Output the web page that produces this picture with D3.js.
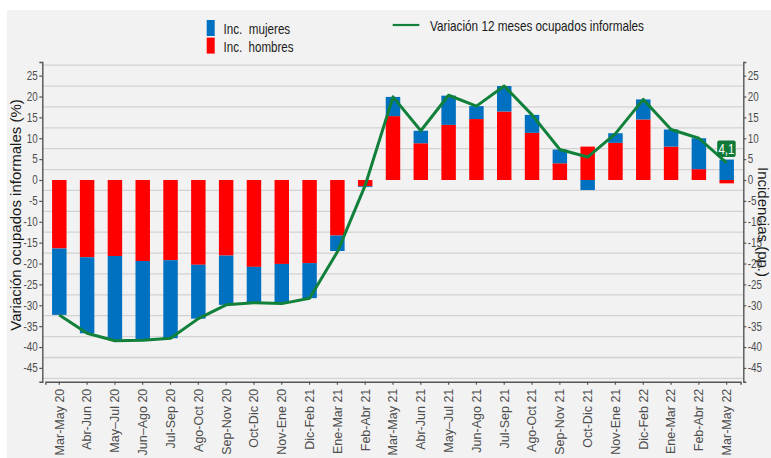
<!DOCTYPE html>
<html>
<head>
<meta charset="utf-8">
<script src="https://cdn.jsdelivr.net/npm/d3@7"></script>
<style>
  body { margin: 0; background: #fff; }
  svg { display: block; }
  text { font-family: "Liberation Sans", Arial, sans-serif; }
</style>
</head>
<body>
<div id="chart"></div>
<script>
// data
var categories = ["Mar-May 20","Abr-Jun 20","May\u2013Jul 20","Jun\u2013Ago 20","Jul-Sep 20","Ago-Oct 20","Sep-Nov 20","Oct-Dic 20","Nov-Ene 20","Dic-Feb 21","Ene-Mar 21","Feb-Abr 21","Mar-May 21","Abr-Jun 21","May\u2013Jul 21","Jun-Ago 21","Jul-Sep 21","Ago-Oct 21","Sep-Nov 21","Oct-Dic 21","Nov-Ene 21","Dic-Feb 22","Ene-Mar 22","Feb-Abr 22","Mar-May 22"];
var incHombres = [-16.4,-18.5,-18.2,-19.4,-19.2,-20.3,-18.1,-20.8,-20.1,-19.9,-13.3,-1.5,15.3,8.8,13.2,14.6,16.4,11.3,4.0,8.0,8.9,14.5,8.0,2.6,-0.8];
var incMujeres = [-15.9,-18.2,-20.1,-18.9,-18.7,-12.9,-11.8,-8.6,-9.4,-8.4,-3.7,-0.2,4.6,3.0,7.0,3.1,6.1,4.3,3.3,-2.4,2.3,4.8,4.1,7.4,4.9];
var variacion = [-32.3,-36.7,-38.5,-38.4,-37.9,-33.2,-29.9,-29.4,-29.6,-28.3,-17.2,-1.3,19.9,11.8,20.3,17.7,22.5,15.6,7.3,5.5,11.1,19.3,12.1,10.0,4.1];
var yTicks = [25,20,15,10,5,0,-5,-10,-15,-20,-25,-30,-35,-40,-45];
var gridValues = [27.5,22.5,17.5,12.5,7.5,2.5,-2.5,-7.5,-12.5,-17.5,-22.5,-27.5,-32.5,-37.5,-42.5,-47.5];
var lastLabel = "4,1";

var W = 771, H = 458;
var plot = {left: 42.3, right: 743.3, top: 62, bottom: 381.7};

// squeeze text horizontally to mimic a narrow face
function narrow(sel, ratio) {
  sel.each(function() {
    var L = this.getComputedTextLength();
    d3.select(this).attr("textLength", L * ratio).attr("lengthAdjust", "spacingAndGlyphs");
  });
}

var svg = d3.select("#chart").append("svg")
  .attr("width", W).attr("height", H);

// panel background
svg.append("rect")
  .attr("x", 7).attr("y", 10)
  .attr("width", W - 7).attr("height", H - 10)
  .attr("fill", "#f2f2f2");

var x = d3.scaleBand()
  .domain(categories)
  .range([45.4, 740.6])
  .paddingInner(0.48)
  .paddingOuter(0.24);

var y = d3.scaleLinear()
  .domain([-48.3, 28.26])
  .range([plot.bottom, plot.top]);

// gridlines
svg.append("g")
  .selectAll("line")
  .data(gridValues)
  .enter()
  .append("line")
  .attr("x1", plot.left).attr("x2", plot.right)
  .attr("y1", function(d) { return y(d); })
  .attr("y2", function(d) { return y(d); })
  .attr("stroke", "#d2d2d2")
  .attr("stroke-width", 1.3);

// stacked bars (diverging)
var table = categories.map(function(c, i) {
  return {cat: c, hombres: incHombres[i], mujeres: incMujeres[i]};
});
var stack = d3.stack().keys(["hombres", "mujeres"]).offset(d3.stackOffsetDiverging);
var series = stack(table);
var color = {hombres: "#ff0000", mujeres: "#0070c0"};

svg.append("g")
  .selectAll("g")
  .data(series)
  .enter()
  .append("g")
  .attr("fill", function(s) { return color[s.key]; })
  .selectAll("rect")
  .data(function(s) { return s; })
  .enter()
  .append("rect")
  .attr("x", function(d) { return x(d.data.cat); })
  .attr("width", x.bandwidth())
  .attr("y", function(d) { return y(Math.max(d[0], d[1])); })
  .attr("height", function(d) { return Math.abs(y(d[0]) - y(d[1])); });

// line
var line = d3.line()
  .x(function(d, i) { return x(categories[i]) + x.bandwidth() / 2; })
  .y(function(d) { return y(d); });

svg.append("path")
  .datum(variacion)
  .attr("d", line)
  .attr("fill", "none")
  .attr("stroke", "#11803a")
  .attr("stroke-width", 3)
  .attr("stroke-linejoin", "round");

// label on last point
var lx = x(categories[categories.length - 1]) + x.bandwidth() / 2;
var ly = y(variacion[variacion.length - 1]) - 14;
svg.append("rect")
  .attr("x", lx - 9.5).attr("y", ly - 8.5)
  .attr("width", 18.5).attr("height", 16.5)
  .attr("rx", 2)
  .attr("fill", "#0f7a38");
svg.append("text")
  .attr("x", lx - 0.3).attr("y", ly + 5)
  .attr("text-anchor", "middle")
  .attr("fill", "#fff")
  .style("font-size", "14px")
  .text(lastLabel)
  .call(narrow, 0.82);

// axes
var axisColor = "#555";
var fmt = function(d) { return String(d); };

var gL = svg.append("g")
  .attr("transform", "translate(" + plot.left + ",0)")
  .call(d3.axisLeft(y).tickValues(yTicks).tickFormat(fmt).tickSize(3).tickPadding(1.5));
var gR = svg.append("g")
  .attr("transform", "translate(" + plot.right + ",0)")
  .call(d3.axisRight(y).tickValues(yTicks).tickFormat(fmt).tickSize(3).tickPadding(1.5));
var gB = svg.append("g")
  .attr("transform", "translate(0," + plot.bottom + ")")
  .call(d3.axisBottom(x).tickSize(3).tickPadding(4));

[gL, gR, gB].forEach(function(g) {
  g.attr("font-family", null);
  g.select(".domain").attr("stroke", axisColor).attr("stroke-width", 1.4);
  g.selectAll(".tick line").attr("stroke", axisColor).attr("stroke-width", 1.2);
});
[gL, gR].forEach(function(g) {
  g.selectAll("text")
    .style("font-size", "12px")
    .attr("fill", "#4d4d4d")
    .call(narrow, 0.82);
});

gB.selectAll("text")
  .style("font-size", "12.5px")
  .attr("fill", "#4d4d4d")
  .attr("text-anchor", "end")
  .attr("transform", "rotate(-90)")
  .attr("x", -7)
  .attr("y", 0)
  .attr("dy", "0.35em");

// axis titles
svg.append("text")
  .attr("transform", "translate(21,215) rotate(-90)")
  .attr("text-anchor", "middle")
  .style("font-size", "15px")
  .attr("fill", "#1a1a1a")
  .text("Variación ocupados informales (%)");

svg.append("text")
  .attr("transform", "translate(758,222) rotate(90)")
  .attr("text-anchor", "middle")
  .style("font-size", "15px")
  .attr("fill", "#1a1a1a")
  .text("Incidencias (pp.)");

// legend
var legendItems = [
  {label: "Inc.  mujeres", key: "mujeres", w: 66.7},
  {label: "Inc.  hombres", key: "hombres", w: 70}
];
var lg = svg.append("g");
lg.selectAll("rect")
  .data(legendItems)
  .enter()
  .append("rect")
  .attr("x", 206.7)
  .attr("y", function(d, i) { return 20 + i * 17.6; })
  .attr("width", 8).attr("height", 16)
  .attr("fill", function(d) { return color[d.key]; });
lg.selectAll("text")
  .data(legendItems)
  .enter()
  .append("text")
  .attr("x", 223.5)
  .attr("y", function(d, i) { return 34 + i * 17.6; })
  .style("font-size", "15px")
  .style("white-space", "pre")
  .attr("fill", "#1a1a1a")
  .attr("textLength", function(d) { return d.w; })
  .attr("lengthAdjust", "spacingAndGlyphs")
  .text(function(d) { return d.label; });

svg.append("line")
  .attr("x1", 392.7).attr("x2", 419.3)
  .attr("y1", 25).attr("y2", 25)
  .attr("stroke", "#11803a").attr("stroke-width", 2.2);
svg.append("text")
  .attr("x", 430)
  .attr("y", 30.5)
  .style("font-size", "15px")
  .attr("fill", "#1a1a1a")
  .attr("textLength", 214)
  .attr("lengthAdjust", "spacingAndGlyphs")
  .text("Variación 12 meses ocupados informales");
</script>
</body>
</html>
